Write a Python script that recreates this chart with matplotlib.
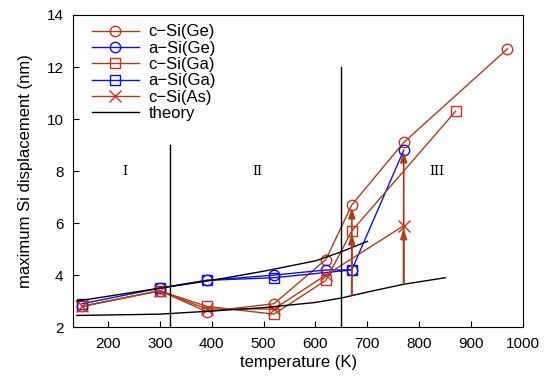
import matplotlib
matplotlib.use("Agg")
import matplotlib.pyplot as plt
import numpy as np

plt.rcParams['font.family'] = ['Liberation Sans', 'DejaVu Sans']
plt.rcParams['font.size'] = 11

# simulation data (temperature in K, displacement in nm)
cge_T = [150, 300, 390, 520, 620, 670, 770, 970]
cge_d = [2.8, 3.4, 2.6, 2.9, 4.6, 6.7, 9.1, 12.7]

age_T = [300, 390, 520, 620, 670, 770]
age_d = [3.5, 3.8, 4.0, 4.2, 4.2, 8.8]

cga_T = [150, 300, 390, 520, 620, 670, 870]
cga_d = [2.8, 3.4, 2.8, 2.5, 3.8, 5.7, 10.3]

aga_T = [150, 300, 390, 520, 670]
aga_d = [2.9, 3.5, 3.8, 3.9, 4.2]

cas_T = [150, 300, 390, 520, 620, 770]
cas_d = [2.8, 3.4, 2.7, 2.7, 4.0, 5.9]

# theory curves
th_up_T = [140, 300, 400, 500, 600, 650, 700]
th_up_d = [3.0, 3.5, 3.8, 4.15, 4.55, 4.9, 5.3]
th_lo_T = [140, 300, 400, 500, 600, 650, 700, 770, 850]
th_lo_d = [2.45, 2.5, 2.62, 2.75, 2.95, 3.12, 3.35, 3.65, 3.9]

# arrows: (T, start, end)
arrows = [(670, 3.25, 5.6), (670, 3.25, 6.6), (770, 3.7, 5.8), (770, 3.7, 8.75)]

red_line = '#a8401c'
red_mark = '#d03020'
blue = '#1010e0'

fig = plt.figure(figsize=(5.5, 3.84), dpi=100)
ax = fig.add_axes([0.133, 0.148, 0.818, 0.813])

ax.plot(cge_T, cge_d, '-o', color=red_line, mec=red_mark, mfc='none', ms=7.5, lw=1, label='c\u2212Si(Ge)')
ax.plot(age_T, age_d, '-o', color=blue, mec=blue, mfc='none', ms=7.5, lw=1, label='a\u2212Si(Ge)')
ax.plot(cga_T, cga_d, '-s', color=red_line, mec=red_mark, mfc='none', ms=7.5, lw=1, label='c\u2212Si(Ga)')
ax.plot(aga_T, aga_d, '-s', color=blue, mec=blue, mfc='none', ms=7.5, lw=1, label='a\u2212Si(Ga)')
ax.plot(cas_T, cas_d, '-x', color=red_line, mec=red_mark, ms=8, lw=1, label='c\u2212Si(As)')
ax.plot(th_up_T, th_up_d, '-', color='black', lw=1, label='theory')
ax.plot(th_lo_T, th_lo_d, '-', color='black', lw=1)

for T, y0, y1 in arrows:
    ax.annotate('', xy=(T, y1), xytext=(T, y0),
                arrowprops=dict(arrowstyle='-|>,head_length=0.6,head_width=0.2',
                                color=red_line, lw=1.3,
                                mutation_scale=10, shrinkA=0, shrinkB=0))

# region boundaries
ax.plot([320, 320], [2, 9], color='black', lw=1)
ax.plot([650, 650], [2, 12], color='black', lw=1)
for lab, x in [('I', 233), ('II', 488), ('III', 833)]:
    ax.text(x, 8.0, lab, family='DejaVu Serif', fontsize=9, ha='center', va='center')

ax.set_xlim(133, 1000)
ax.set_ylim(2, 14)
ax.set_xticks(range(200, 1001, 100))
ax.set_yticks(range(2, 15, 2))
ax.tick_params(direction='in', length=4, pad=7, labelsize=11)
ax.set_xlabel('temperature (K)', fontsize=12, labelpad=3)
ax.set_ylabel('maximum Si displacement (nm)', fontsize=12, labelpad=10)

ax.legend(loc='upper left', bbox_to_anchor=(0.042, 0.97), frameon=False,
          handlelength=2.8, handletextpad=0.6, labelspacing=0.08,
          borderaxespad=0.0, fontsize=12, borderpad=0.0)

fig.savefig('out.png', dpi=100)
